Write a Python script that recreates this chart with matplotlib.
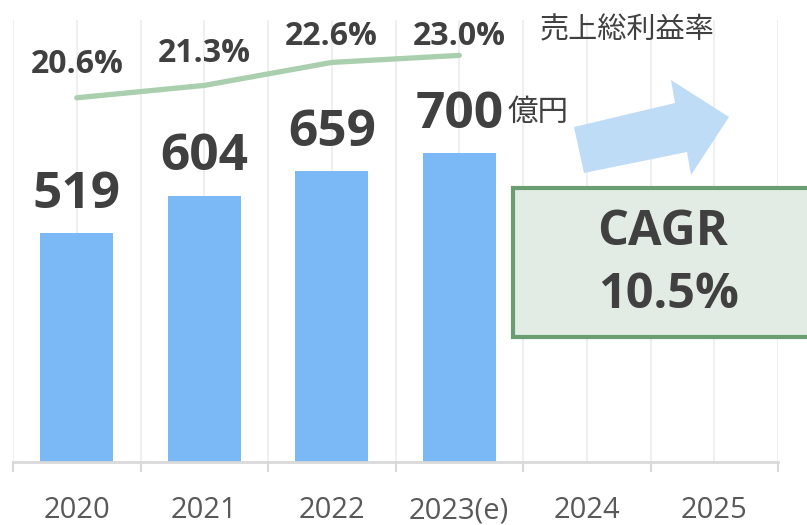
import matplotlib
matplotlib.use("Agg")
import matplotlib.pyplot as plt
from matplotlib.patches import Polygon, Rectangle
import numpy as np

categories = ["2020", "2021", "2022", "2023(e)", "2024", "2025"]
sales = [519, 604, 659, 700]
margin = [20.6, 21.3, 22.6, 23.0]
margin_labels = ["20.6%", "21.3%", "22.6%", "23.0%"]

# label placement (style, not data)
margin_label_offset = [1.4, 1.32, 0.99, 0.59]

W, H = 807, 525
fig = plt.figure(figsize=(W / 100, H / 100), dpi=100)
fam = ["Open Sans", "Noto Sans CJK JP", "DejaVu Sans"]
plt.rcParams["font.family"] = fam
jp = ["Noto Sans CJK JP"]
dark = "#404040"

L, R, T, B = 13, 778, 20, 462
ax = fig.add_axes([L / W, 1 - B / H, (R - L) / W, (B - T) / H])
ax.set_xlim(-0.5, 5.5)
ax.set_ylim(0, 1002)
x = np.arange(len(sales))
ax.bar(x, sales, width=0.57, color="#7ab9f5", zorder=2)

# gridlines every half category
for g in np.arange(-0.5, 5.51, 0.5):
    ax.axvline(g, color="#efefef", lw=1.5, zorder=0)

for s in ["top", "left", "right"]:
    ax.spines[s].set_visible(False)
ax.spines["bottom"].set_color("#d9d9d9")
ax.spines["bottom"].set_linewidth(2)
ax.set_yticks([])
ax.set_xticks(np.arange(-0.5, 5.51, 1.0))
ax.set_xticklabels([])
ax.tick_params(axis="x", length=7, width=1.5, color="#d9d9d9")
for i, c in enumerate(categories):
    ax.text(i, -127, c, ha="center", va="baseline", fontsize=21, color="#595959",
            clip_on=False)

for i, v in enumerate(sales):
    ax.text(i, v + 57, str(v), ha="center", va="baseline", fontsize=37,
            fontweight="bold", color=dark)
ax.text(3.375, 773, "億円", ha="left", va="baseline", fontsize=22,
        color=dark, family=jp)

ax2 = ax.twinx()
ax2.set_ylim(0, 25)
ax2.plot(x, margin, color="#a9cfae", lw=3.8, solid_capstyle="round", zorder=3)
for s in ax2.spines.values():
    s.set_visible(False)
ax2.set_yticks([])
for i, (v, lab) in enumerate(zip(margin, margin_labels)):
    ax2.text(i, v + margin_label_offset[i], lab, ha="center", va="baseline",
             fontsize=23, fontweight="bold", color=dark)
ax2.text(4.32, 23.93, "売上総利益率", ha="center", va="baseline", fontsize=21,
         color=dark, family=jp)

# arrow (figure pixel coordinates)
arrow_px = [(574, 127), (675, 103), (671, 80), (729, 117), (691, 175), (687, 152), (584, 173)]
arrow = Polygon([(px / W, 1 - py / H) for px, py in arrow_px], closed=True,
                transform=fig.transFigure, facecolor="#bfdcf7", edgecolor="none")
fig.patches.append(arrow)

# CAGR box
box = Rectangle((513 / W, 1 - 337 / H), (812 - 513) / W, (337 - 188) / H,
                transform=fig.transFigure, facecolor="#e2ece4", edgecolor="#6a9e70",
                lw=3, zorder=5)
fig.patches.append(box)
fig.text(663 / W, 1 - 245 / H, "CAGR", ha="center", va="baseline", fontsize=35,
         fontweight="bold", color=dark, zorder=6)
fig.text(669 / W, 1 - 308 / H, "10.5%", ha="center", va="baseline", fontsize=35,
         fontweight="bold", color=dark, zorder=6)

fig.savefig("out.png", dpi=100)
